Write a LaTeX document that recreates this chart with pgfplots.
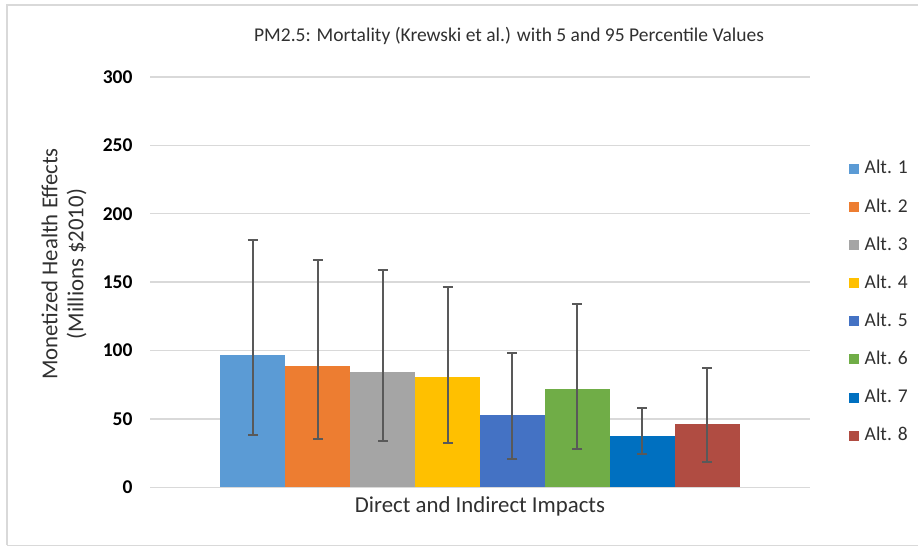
\documentclass[border=0pt]{standalone}
\usepackage{pgfplots}
\pgfplotsset{compat=1.18}
\usepackage{fontspec}
\setmainfont{Carlito}

\definecolor{altA}{HTML}{5B9BD5}
\definecolor{altB}{HTML}{ED7D31}
\definecolor{altC}{HTML}{A5A5A5}
\definecolor{altD}{HTML}{FFC000}
\definecolor{altE}{HTML}{4472C4}
\definecolor{altF}{HTML}{70AD47}
\definecolor{altG}{HTML}{0070C0}
\definecolor{altH}{HTML}{B04C42}
\definecolor{gridc}{HTML}{D9D9D9}
\definecolor{txt}{HTML}{303030}
\definecolor{errc}{HTML}{595959}

\begin{document}
\begin{tikzpicture}[x=1pt,y=1pt]
	% frame of the chart area (picture = 918 x 546)
	\path[use as bounding box] (0,0) rectangle (918,546);
	\draw[gridc, line width=1.2pt] (7,1) -- (7,541) -- (918,541);
	\draw[gridc, line width=1pt] (7,1) -- (918,1);

	\begin{axis}[
		at={(150pt,58.7pt)}, anchor=south west,
		scale only axis,
		width=660pt, height=410.3pt,
		xmin=-0.5, xmax=0.5,
		ymin=0, ymax=300,
		ytick={0,50,...,300},
		xtick=\empty,
		ymajorgrids,
		grid style={gridc, line width=1.3pt},
		axis line style={draw=none},
		major tick length=0pt,
		/pgf/number format/assume math mode=true,
		yticklabel style={font=\fontsize{19.5}{23}\selectfont\bfseries, text=black, xshift=-14pt},
		ybar=0pt, bar width=64.9pt,
		legend style={at={(1.0538,0.808)}, anchor=north west, draw=none, fill=none,
			font=\fontsize{19.5}{23}\selectfont, text=txt, row sep=16.1pt, column sep=4pt,
			nodes={inner sep=2pt, text height=14pt, text depth=4pt}},
		legend cell align=left,
		legend image code/.code={\fill[#1,draw=none] (0pt,-5pt) rectangle (10pt,5pt);},
		error bars/y dir=both, error bars/y explicit,
		error bars/error bar style={errc, line width=2pt},
		error bars/error mark options={errc, line width=2pt, rotate=90, mark size=5pt},
		]
		\addplot[fill=altA, draw=none] coordinates {(0,96.6) += (0,84.4) -= (0,58.1)};
		\addlegendentry{Alt. 1}
		\addplot[fill=altB, draw=none] coordinates {(0,88.8) += (0,77.1) -= (0,53.4)};
		\addlegendentry{Alt. 2}
		\addplot[fill=altC, draw=none] coordinates {(0,84.6) += (0,74.0) -= (0,50.7)};
		\addlegendentry{Alt. 3}
		\addplot[fill=altD, draw=none] coordinates {(0,80.7) += (0,65.4) -= (0,48.5)};
		\addlegendentry{Alt. 4}
		\addplot[fill=altE, draw=none] coordinates {(0,52.7) += (0,45.6) -= (0,31.7)};
		\addlegendentry{Alt. 5}
		\addplot[fill=altF, draw=none] coordinates {(0,71.7) += (0,62.5) -= (0,43.7)};
		\addlegendentry{Alt. 6}
		\addplot[fill=altG, draw=none] coordinates {(0,37.8) += (0,20.0) -= (0,13.4)};
		\addlegendentry{Alt. 7}
		\addplot[fill=altH, draw=none] coordinates {(0,46.3) += (0,40.8) -= (0,27.8)};
		\addlegendentry{Alt. 8}
	\end{axis}

	% title and axis titles
	\node[text=txt, font=\fontsize{19.5}{23}\selectfont] at (509,510) {PM2.5: Mortality (Krewski et al.) with 5 and 95 Percentile Values};
	\node[text=txt, font=\fontsize{22.8}{27}\selectfont] at (480,40) {Direct and Indirect Impacts};
	\node[text=txt, font=\fontsize{22.8}{26}\selectfont, rotate=90, align=center] at (64,282) {Monetized Health Effects\\(Millions \$2010)};
\end{tikzpicture}
\end{document}
